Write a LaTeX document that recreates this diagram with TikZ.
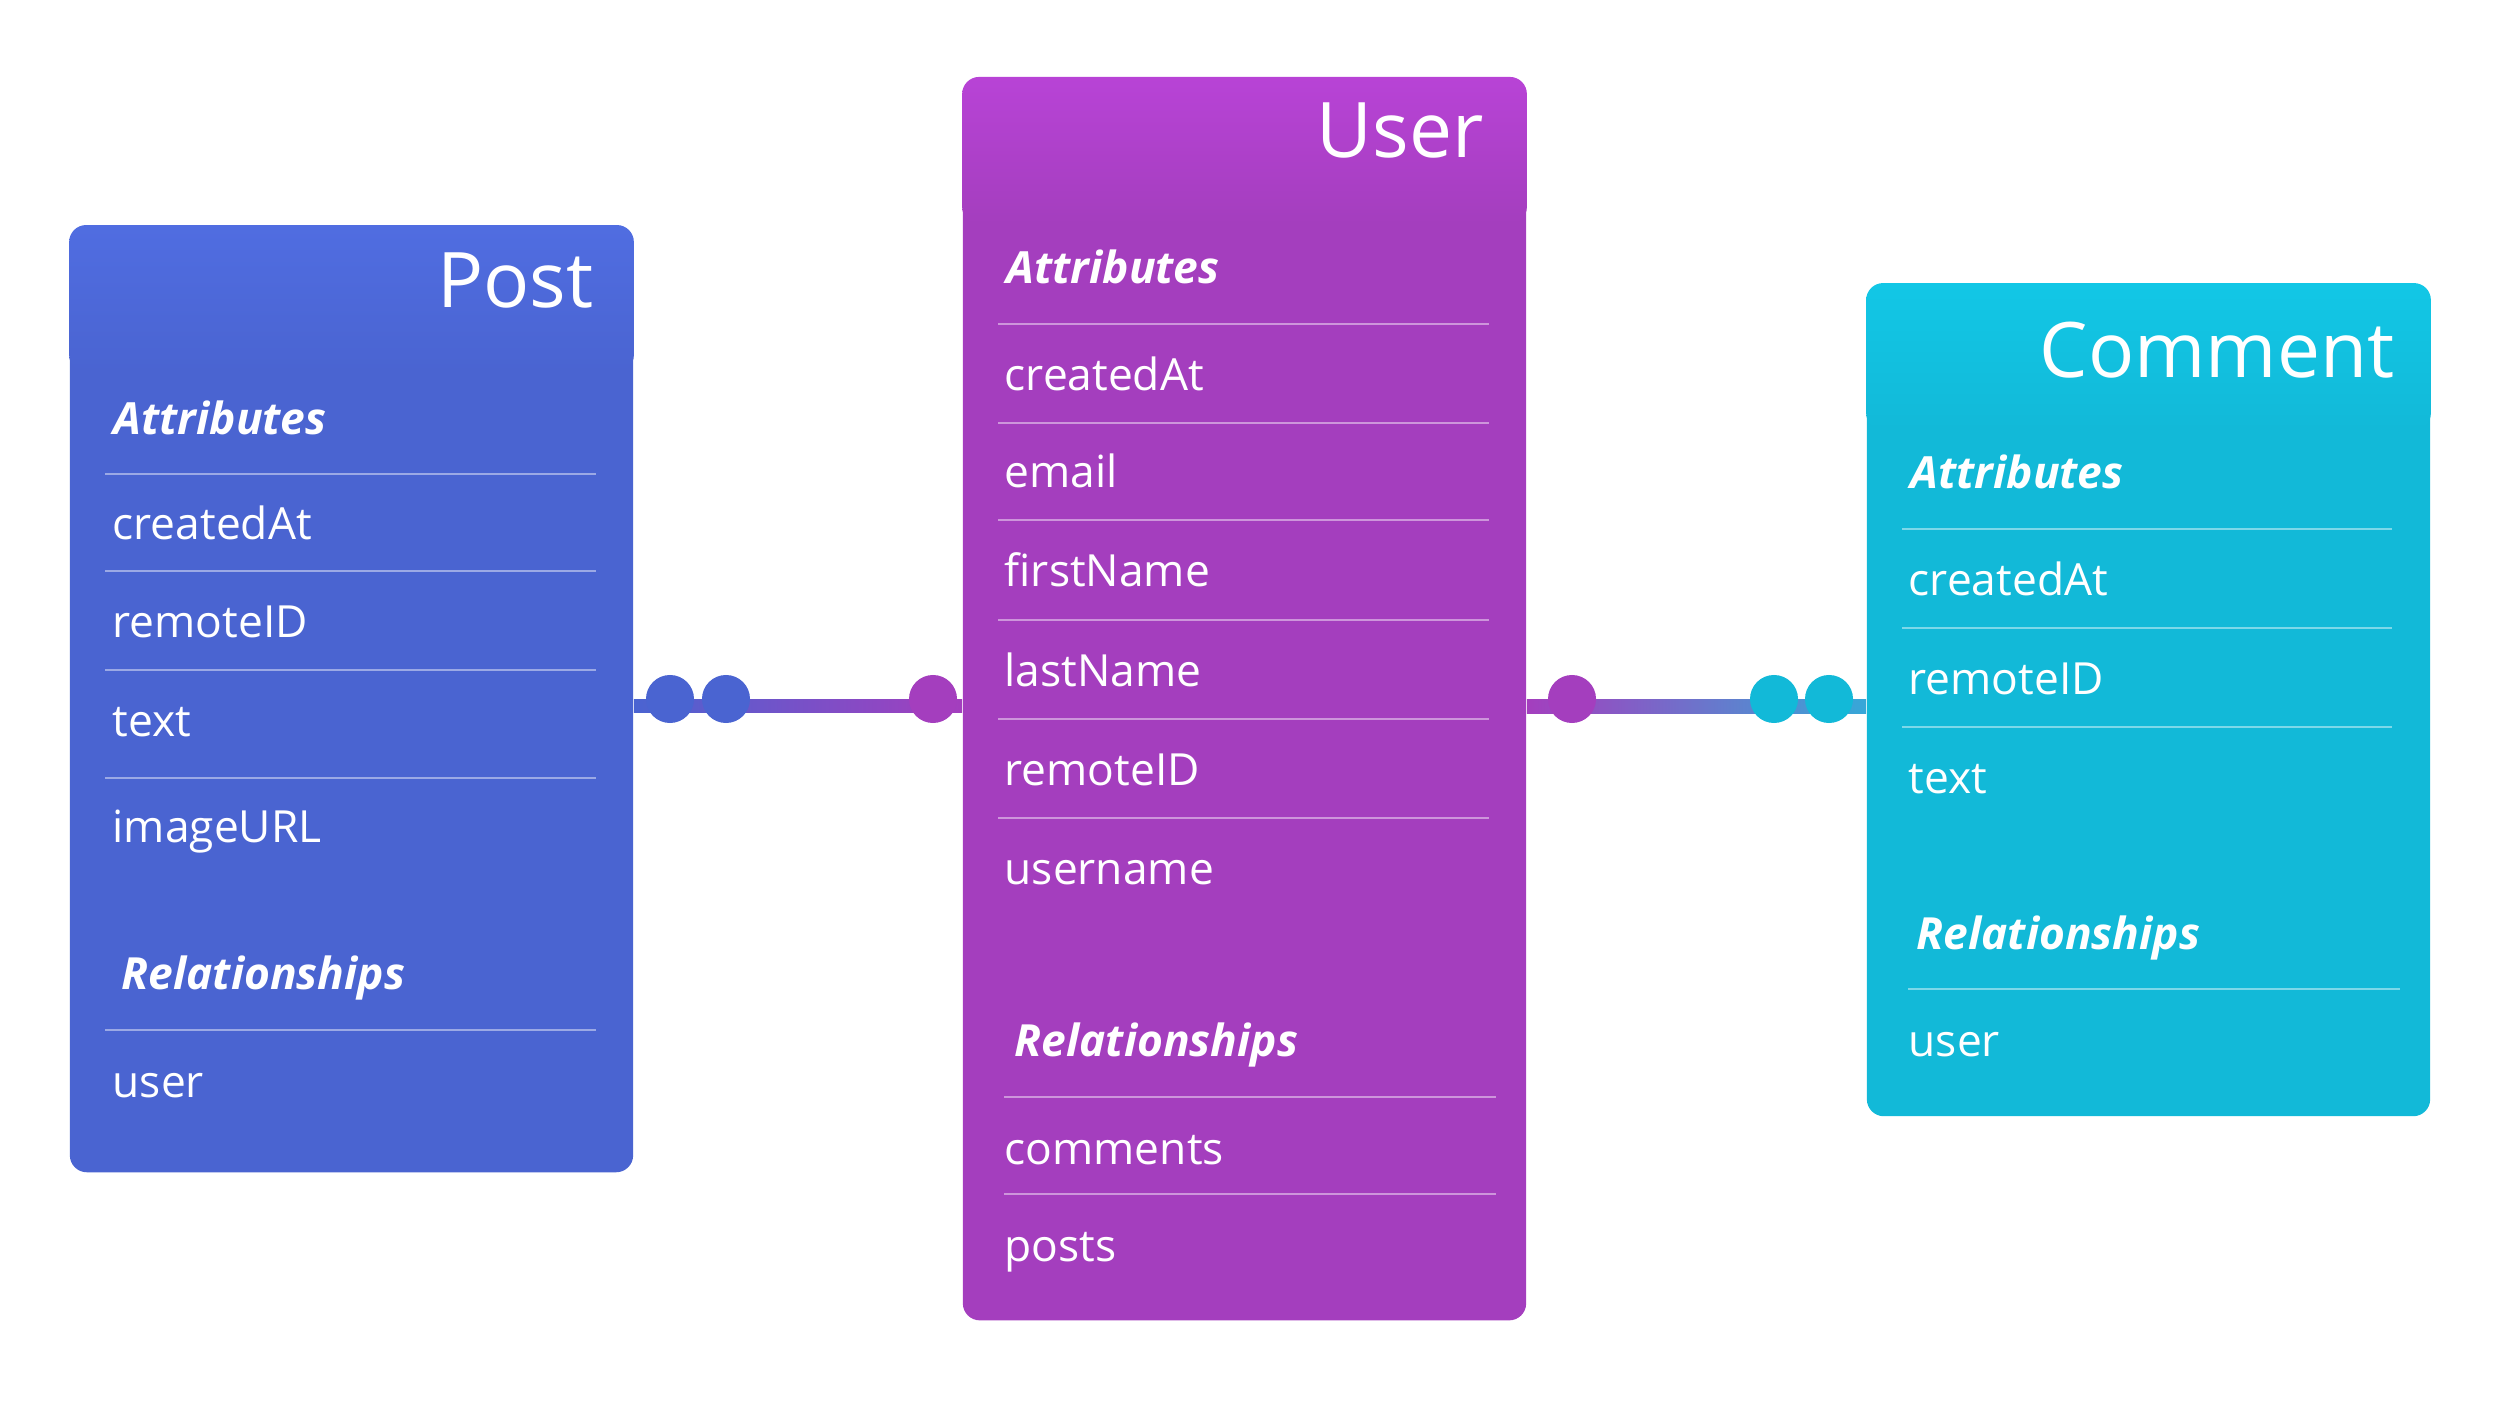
\documentclass[tikz,border=0pt]{standalone}
\usepackage{fontspec}
\setmainfont{Open Sans}

\definecolor{postc}{HTML}{4A64D1}
\definecolor{posttop}{HTML}{506DE1}
\definecolor{userc}{HTML}{A43EBE}
\definecolor{usertop}{HTML}{B843D6}
\definecolor{commentc}{HTML}{12B9D8}
\definecolor{commenttop}{HTML}{12C7E6}
\definecolor{linkc}{HTML}{36A8D8}

\begin{document}
\begin{tikzpicture}[x=0.01cm, y=-0.01cm,
  entity/.style={rectangle, rounded corners=0.17cm, minimum width=5.63cm, inner sep=0},
  entitytitle/.style={anchor=base east, text=white, inner sep=0, font=\fontsize{21.8}{26}\selectfont},
  grouplabel/.style={anchor=base west, text=white, inner sep=0, font=\fontsize{12.6}{15}\selectfont\bfseries\itshape},
  field/.style={anchor=base west, text=white, inner sep=0, font=\fontsize{12.6}{15}\selectfont},
  seprule/.style={draw=white, draw opacity=0.45, line width=0.02cm},
  linkdot/.style={circle, minimum size=0.48cm, inner sep=0}]
  \useasboundingbox (0,0) rectangle (2500,1410);

  % entities
  \node[entity, fill=postc, minimum height=9.46cm] (post) at (351.5,699) {};
  \shade[top color=posttop, bottom color=postc, rounded corners=0.17cm]
  (post.north west) rectangle ([yshift=-1.47cm]post.north east);

  \node[entity, fill=userc, minimum height=12.42cm] (user) at (1244.5,699) {};
  \shade[top color=usertop, bottom color=userc, rounded corners=0.17cm]
  (user.north west) rectangle ([yshift=-1.47cm]user.north east);

  \node[entity, fill=commentc, minimum height=8.32cm] (comment) at (2148.5,700) {};
  \shade[top color=commenttop, bottom color=commentc, rounded corners=0.17cm]
  (comment.north west) rectangle ([yshift=-1.47cm]comment.north east);

  % Post
  \node[entitytitle] (post-title) at (594,308) {Post};
  \node[grouplabel] (post-attr) at (113,435) {Attributes};
  \draw[seprule] (105,474) -- (596,474);
  \node[field] (post-f1) at (112,540) {createdAt};
  \draw[seprule] (105,571) -- (596,571);
  \node[field] (post-f2) at (112,638) {remoteID};
  \draw[seprule] (105,670) -- (596,670);
  \node[field] (post-f3) at (112,737) {text};
  \draw[seprule] (105,778) -- (596,778);
  \node[field] (post-f4) at (112,843) {imageURL};
  \node[grouplabel] (post-rel) at (121,989) {Relationships};
  \draw[seprule] (105,1030) -- (596,1030);
  \node[field] (post-r1) at (112,1097) {user};

  % User
  \node[entitytitle] (user-title) at (1484,158) {User};
  \node[grouplabel] (user-attr) at (1006,284) {Attributes};
  \draw[seprule] (998,324) -- (1489,324);
  \node[field] (user-f1) at (1004,391) {createdAt};
  \draw[seprule] (998,423) -- (1489,423);
  \node[field] (user-f2) at (1004,488) {email};
  \draw[seprule] (998,520) -- (1489,520);
  \node[field] (user-f3) at (1004,587) {firstName};
  \draw[seprule] (998,620) -- (1489,620);
  \node[field] (user-f4) at (1004,687) {lastName};
  \draw[seprule] (998,719) -- (1489,719);
  \node[field] (user-f5) at (1004,786) {remoteID};
  \draw[seprule] (998,818) -- (1489,818);
  \node[field] (user-f6) at (1004,885) {username};
  \node[grouplabel] (user-rel) at (1014,1056) {Relationships};
  \draw[seprule] (1004,1097) -- (1496,1097);
  \node[field] (user-r1) at (1004,1164) {comments};
  \draw[seprule] (1004,1194) -- (1496,1194);
  \node[field] (user-r2) at (1004,1261) {posts};

  % Comment
  \node[entitytitle] (comment-title) at (2395,378) {Comment};
  \node[grouplabel] (comment-attr) at (1910,489) {Attributes};
  \draw[seprule] (1902,529) -- (2392,529);
  \node[field] (comment-f1) at (1908,596) {createdAt};
  \draw[seprule] (1902,628) -- (2392,628);
  \node[field] (comment-f2) at (1908,695) {remoteID};
  \draw[seprule] (1902,727) -- (2392,727);
  \node[field] (comment-f3) at (1908,794) {text};
  \node[grouplabel] (comment-rel) at (1916,949) {Relationships};
  \draw[seprule] (1908,989) -- (2400,989);
  \node[field] (comment-r1) at (1908,1056) {user};

  % links
  \shade[left color=postc, right color=userc]
  ([yshift=-0.005cm]post.east) rectangle ([yshift=-0.135cm]user.west);
  \shade[left color=userc, right color=linkc]
  ([yshift=-0.005cm]user.east) rectangle ([yshift=-0.135cm]comment.west);

  \node[linkdot, fill=postc] (pu-1) at (670,699) {};
  \node[linkdot, fill=postc] (pu-2) at (726,699) {};
  \node[linkdot, fill=userc] (pu-3) at (933,699) {};
  \node[linkdot, fill=userc] (uc-1) at (1572,699) {};
  \node[linkdot, fill=commentc] (uc-2) at (1774,699) {};
  \node[linkdot, fill=commentc] (uc-3) at (1829,699) {};
\end{tikzpicture}
\end{document}
